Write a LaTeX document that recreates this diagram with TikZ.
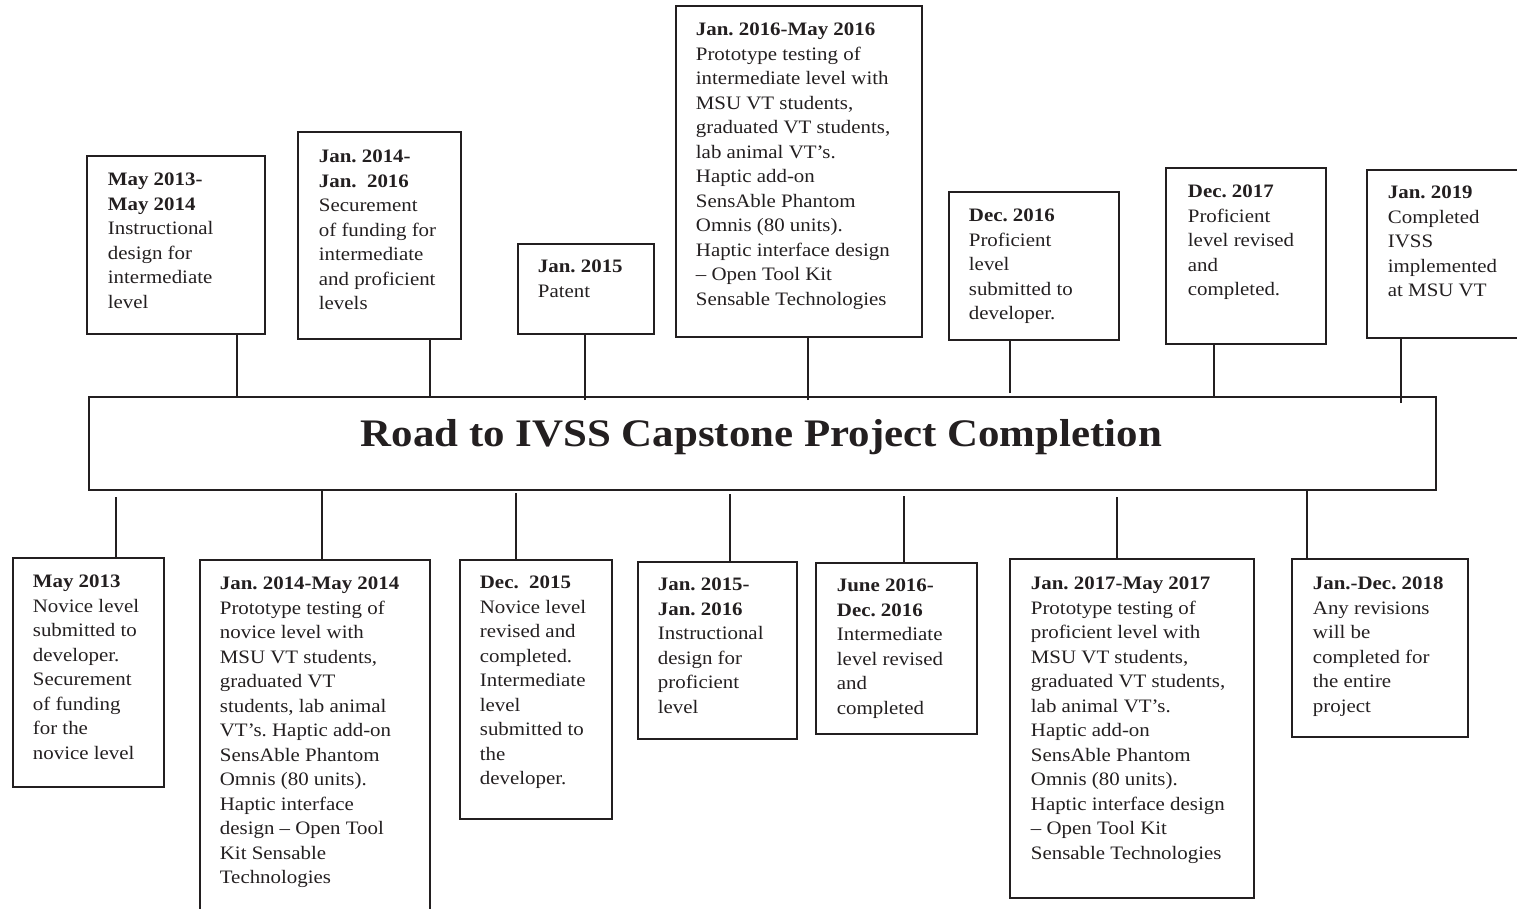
\documentclass[tikz,border=0pt]{standalone}
\usepackage{fontspec}
\setmainfont{Liberation Serif}[FakeStretch=1.1]
\usepackage{tikz}
\definecolor{ink}{HTML}{231F20}
\frenchspacing

\begin{document}
\begin{tikzpicture}[x=1pt, y=-1pt, line width=1.8pt, draw=ink, text=ink,
      frame/.style = {draw, rectangle, inner sep=0pt, anchor=north west},
      entry/.style = {anchor=north west, align=left, inner sep=0pt,
        yshift=13pt, font=\fontsize{19}{24.5}\selectfont},
      headline/.style = {anchor=base, inner sep=0pt,
        font=\fontsize{39}{45}\selectfont\bfseries}]
    \clip (0,0) rectangle (1517,909);

    % the road
    \node[frame, minimum width=1347, minimum height=93] (road) at (88,396) {};
    \node[headline] (roadtitle) at (761.5,446) {Road to IVSS Capstone Project Completion};

    % boxes above the road (text placed at its first baseline)
    \node[frame, minimum width=178, minimum height=178] (up1) at (86,155) {};
    \node[entry] (up1txt) at (107,185) {\textbf{May 2013-}\\\textbf{May 2014}\\Instructional\\design for\\intermediate\\level};
    \node[frame, minimum width=163, minimum height=207] (up2) at (297,131) {};
    \node[entry] (up2txt) at (318,162) {\textbf{Jan. 2014-}\\\textbf{Jan.\ \ 2016}\\Securement\\of funding for\\intermediate\\and proficient\\levels};
    \node[frame, minimum width=136, minimum height=90] (up3) at (517,243) {};
    \node[entry] (up3txt) at (537,272) {\textbf{Jan. 2015}\\Patent};
    \node[frame, minimum width=246, minimum height=331] (up4) at (675,5) {};
    \node[entry] (up4txt) at (695,35) {\textbf{Jan. 2016-May 2016}\\Prototype testing of\\intermediate level with\\MSU VT students,\\graduated VT students,\\lab animal VT’s.\\Haptic add-on\\SensAble Phantom\\Omnis (80 units).\\Haptic interface design\\– Open Tool Kit\\Sensable Technologies};
    \node[frame, minimum width=170, minimum height=148] (up5) at (948,191) {};
    \node[entry] (up5txt) at (968,221) {\textbf{Dec. 2016}\\Proficient\\level\\submitted to\\developer.};
    \node[frame, minimum width=160, minimum height=176] (up6) at (1165,167) {};
    \node[entry] (up6txt) at (1187,197) {\textbf{Dec. 2017}\\Proficient\\level revised\\and\\completed.};
    \node[frame, minimum width=160, minimum height=168] (up7) at (1366,169) {};
    \node[entry] (up7txt) at (1387,198) {\textbf{Jan. 2019}\\Completed\\IVSS\\implemented\\at MSU VT};

    % boxes below the road
    \node[frame, minimum width=151, minimum height=229] (dn1) at (12,557) {};
    \node[entry] (dn1txt) at (32,587) {\textbf{May 2013}\\Novice level\\submitted to\\developer.\\Securement\\of funding\\for the\\novice level};
    \node[frame, minimum width=230, minimum height=360] (dn2) at (199,559) {};
    \node[entry] (dn2txt) at (219,589) {\textbf{Jan. 2014-May 2014}\\Prototype testing of\\novice level with\\MSU VT students,\\graduated VT\\students, lab animal\\VT’s. Haptic add-on\\SensAble Phantom\\Omnis (80 units).\\Haptic interface\\design – Open Tool\\Kit Sensable\\Technologies};
    \node[frame, minimum width=152, minimum height=259] (dn3) at (459,559) {};
    \node[entry] (dn3txt) at (479,588) {\textbf{Dec.\ \ 2015}\\Novice level\\revised and\\completed.\\Intermediate\\level\\submitted to\\the\\developer.};
    \node[frame, minimum width=159, minimum height=177] (dn4) at (637,561) {};
    \node[entry] (dn4txt) at (657,590) {\textbf{Jan. 2015-}\\\textbf{Jan. 2016}\\Instructional\\design for\\proficient\\level};
    \node[frame, minimum width=161, minimum height=171] (dn5) at (815,562) {};
    \node[entry] (dn5txt) at (836,591) {\textbf{June 2016-}\\\textbf{Dec. 2016}\\Intermediate\\level revised\\and\\completed};
    \node[frame, minimum width=244, minimum height=339] (dn6) at (1009,558) {};
    \node[entry] (dn6txt) at (1030,589) {\textbf{Jan. 2017-May 2017}\\Prototype testing of\\proficient level with\\MSU VT students,\\graduated VT students,\\lab animal VT’s.\\Haptic add-on\\SensAble Phantom\\Omnis (80 units).\\Haptic interface design\\– Open Tool Kit\\Sensable Technologies};
    \node[frame, minimum width=176, minimum height=178] (dn7) at (1291,558) {};
    \node[entry] (dn7txt) at (1312,589) {\textbf{Jan.-Dec. 2018}\\Any revisions\\will be\\completed for\\the entire\\project};

    % connectors
    \foreach \n/\x/\y in {up1/237/396, up2/430/396, up3/585/400, up4/808/400,
                          up5/1010/393, up6/1214/396, up7/1401/403,
                          dn1/116/497, dn2/322/489, dn3/516/493, dn4/730/494,
                          dn5/904/496, dn6/1117/497, dn7/1307/490} {
      \coordinate (\n-foot) at (\x,\y);
    }
    \foreach \n in {up1,up2,up3,up4,up5,up6,up7}
      \draw (\n-foot) -- (\n-foot |- \n.south);
    \foreach \n in {dn1,dn2,dn3,dn4,dn5,dn6,dn7}
      \draw (\n-foot) -- (\n-foot |- \n.north);
\end{tikzpicture}
\end{document}
